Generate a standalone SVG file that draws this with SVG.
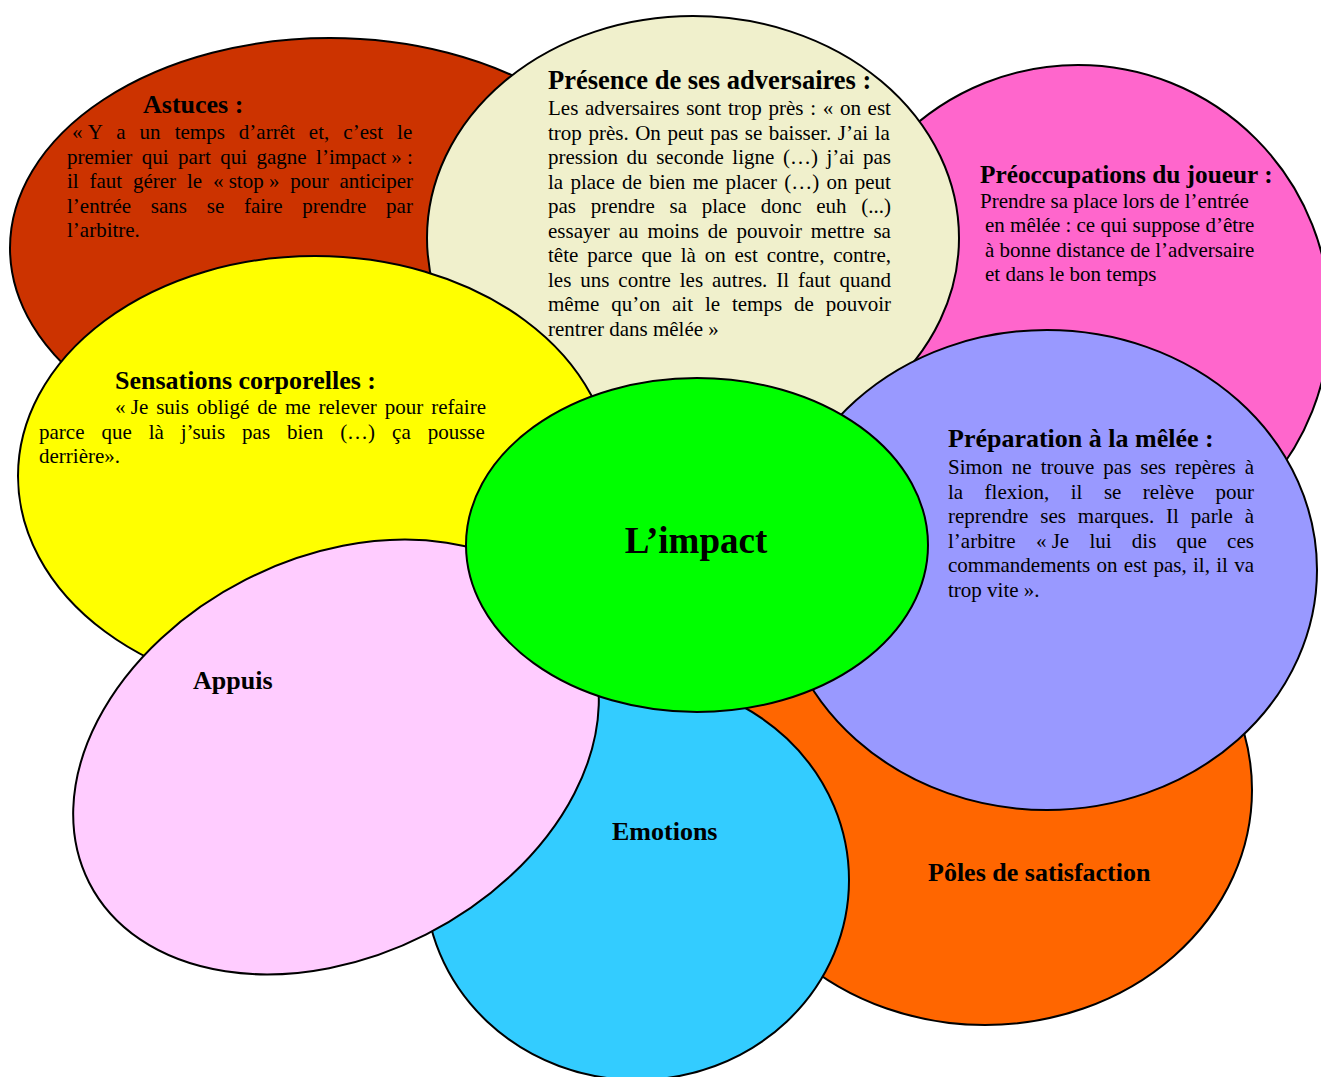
<svg xmlns="http://www.w3.org/2000/svg" width="1321" height="1077" viewBox="0 0 1321 1077">
<style>
  .shape { stroke: #000; stroke-width: 2; }
  text { font-family: "Liberation Serif", "Times New Roman", serif; fill: #000; }
  .ttl { font-size: 26px; font-weight: bold; }
  .big { font-size: 37px; font-weight: bold; }
  .body { font-size: 21px; }
</style>
<rect width="1321" height="1077" fill="#fff"/>

<g id="astuces">
  <ellipse class="shape" cx="330" cy="248" rx="320" ry="210" fill="#CC3300"/>
  <text class="ttl" x="143" y="113">Astuces :</text>
  <text class="body" x="72" y="139" word-spacing="8.81"><tspan word-spacing="0">« </tspan>Y a un temps d’arrêt et, c’est le</text>
  <text class="body" x="67" y="163.5" word-spacing="4.22">premier qui part qui gagne <tspan word-spacing="0">l’impact » :</tspan></text>
  <text class="body" x="67" y="188" word-spacing="5.57">il faut gérer le <tspan word-spacing="0">« stop »</tspan> pour anticiper</text>
  <text class="body" x="67" y="212.5" word-spacing="14.5">l’entrée sans se faire prendre par</text>
  <text class="body" x="67" y="237">l’arbitre.</text>
</g>

<g id="preoccupations">
  <ellipse class="shape" cx="1078" cy="318" rx="252" ry="253" fill="#FF66CC"/>
  <text class="ttl" x="980" y="183" style="font-size:25.3px">Préoccupations du joueur :</text>
  <text class="body" x="980" y="207.5">Prendre sa place lors de l’entrée</text>
  <text class="body" x="985" y="232">en mêlée : ce qui suppose d’être</text>
  <text class="body" x="985" y="256.5">à bonne distance de l’adversaire</text>
  <text class="body" x="985" y="281">et dans le bon temps</text>
</g>

<g id="presence">
  <ellipse class="shape" cx="693" cy="238" rx="266" ry="222" fill="#F0F0CC"/>
  <text class="ttl" x="548" y="89" style="font-size:26.5px">Présence de ses adversaires :</text>
  <text class="body" x="548" y="115" word-spacing="1.46">Les adversaires sont trop près : « on est</text>
  <text class="body" x="548" y="139.5" word-spacing="1.32">trop près. On peut pas se baisser. J’ai la</text>
  <text class="body" x="548" y="164" word-spacing="3.32">pression du seconde ligne (…) j’ai pas</text>
  <text class="body" x="548" y="188.5" word-spacing="2.05">la place de bien me placer (…) on peut</text>
  <text class="body" x="548" y="213" word-spacing="9.45">pas prendre sa place donc euh (...)</text>
  <text class="body" x="548" y="237.5" word-spacing="3.7">essayer au moins de pouvoir mettre sa</text>
  <text class="body" x="548" y="262" word-spacing="3.6">tête parce que là on est contre, contre,</text>
  <text class="body" x="548" y="286.5" word-spacing="3.67">les uns contre les autres. Il faut quand</text>
  <text class="body" x="548" y="311" word-spacing="6.62">même qu’on ait le temps de pouvoir</text>
  <text class="body" x="548" y="335.5">rentrer dans mêlée »</text>
</g>

<g id="sensations">
  <ellipse class="shape" cx="315" cy="476" rx="297" ry="220" fill="#FFFF00"/>
  <text class="ttl" x="115" y="389">Sensations corporelles :</text>
  <text class="body" x="115" y="414" word-spacing="2.68"><tspan word-spacing="0">« Je</tspan> suis obligé de me relever pour refaire</text>
  <text class="body" x="39" y="439" word-spacing="11.7">parce que là j’suis pas bien (…) ça pousse</text>
  <text class="body" x="39" y="463">derrière».</text>
</g>

<g id="poles">
  <ellipse class="shape" cx="985" cy="790" rx="267" ry="235" fill="#FF6600"/>
  <text class="ttl" x="928" y="881">Pôles de satisfaction</text>
</g>

<g id="emotions">
  <ellipse class="shape" cx="637" cy="880" rx="212" ry="200" fill="#33CCFF"/>
  <text class="ttl" x="612" y="840">Emotions</text>
</g>

<g id="appuis">
  <ellipse class="shape" cx="336" cy="757" rx="277" ry="199" transform="rotate(-27 336 757)" fill="#FFCCFF"/>
  <text class="ttl" x="193" y="689">Appuis</text>
</g>

<g id="preparation">
  <ellipse class="shape" cx="1047" cy="570" rx="270" ry="240" fill="#9999FF"/>
  <text class="ttl" x="948" y="447">Préparation à la mêlée :</text>
  <text class="body" x="948" y="474" word-spacing="3.76">Simon ne trouve pas ses repères à</text>
  <text class="body" x="948" y="498.5" word-spacing="16.2">la flexion, il se relève pour</text>
  <text class="body" x="948" y="523" word-spacing="6.62">reprendre ses marques. Il parle à</text>
  <text class="body" x="948" y="547.5" word-spacing="15">l’arbitre <tspan word-spacing="0">« Je</tspan> lui dis que ces</text>
  <text class="body" x="948" y="572" word-spacing="1.03">commandements on est pas, il, il va</text>
  <text class="body" x="948" y="596.5">trop vite ».</text>
</g>

<g id="impact">
  <ellipse class="shape" cx="697" cy="545" rx="231" ry="167" fill="#00FF00"/>
  <text class="big" x="696" y="553" text-anchor="middle">L’impact</text>
</g>
</svg>
